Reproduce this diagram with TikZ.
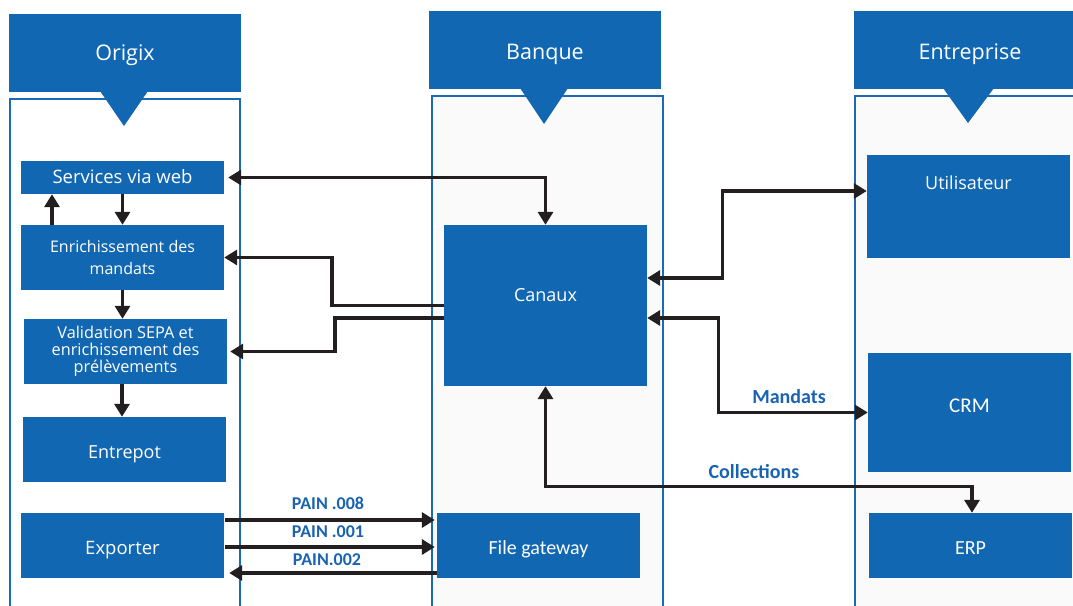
\documentclass[tikz,border=0pt]{standalone}
\usepackage{fontspec}
\setmainfont{Open Sans}
\newfontfamily\carl{Carlito}
\usetikzlibrary{arrows.meta}
\definecolor{mblue}{HTML}{1167B1}
\definecolor{lblue}{HTML}{1A63B0}
\definecolor{cbord}{HTML}{1A6AB8}
\definecolor{cfill}{HTML}{FAFAFA}
\definecolor{arrc}{HTML}{231F20}
\newcommand\rtxt[2]{\raisebox{#1}[0pt][0pt]{#2}}
\begin{document}
\begin{tikzpicture}[x=1pt,y=-1pt,
  hdr/.style={fill=mblue,text=white,inner sep=0pt,minimum width=232pt,minimum height=78pt,font=\fontsize{21.5}{24}\selectfont},
  blk/.style={fill=mblue,text=white,inner sep=0pt,align=center,minimum width=203pt},
  cont/.style={draw=cbord,line width=2pt},
  arr/.style={draw=arrc,line width=3.4pt,-{Triangle[length=13pt,width=15pt]}},
  dbl/.style={draw=arrc,line width=3.4pt,{Triangle[length=13pt,width=15pt]}-{Triangle[length=13pt,width=15pt]}},
  lbl/.style={text=lblue,font=\carl\bfseries\fontsize{18}{20}\selectfont,inner sep=0pt},
  lblb/.style={text=lblue,font=\carl\bfseries\fontsize{20}{22}\selectfont,inner sep=0pt}]
\useasboundingbox[fill=white] (0,0) rectangle (1073,605);
% containers
\path[cont,fill=white] (9.5,99) rectangle (240,625);
\path[cont,fill=cfill] (432,96) rectangle (663,625);
\path[cont,fill=cfill] (855,96) rectangle (1095,625);
% headers
\node[hdr] (hO) at (125,53) {\rtxt{-7pt}{Origix}};
\node[hdr] (hB) at (545,50) {\rtxt{-9.3pt}{Banque}};
\node[hdr] (hE) at (970,50) {\rtxt{-9.3pt}{Entreprise}};
\fill[mblue] (100,91) -- (148,91) -- (124,126) -- cycle;
\fill[mblue] (520,88) -- (568,88) -- (544,124) -- cycle;
\fill[mblue] (943,88) -- (994,88) -- (968,123) -- cycle;
% Origix boxes
\node[blk,minimum height=33pt,font=\fontsize{18.5}{20}\selectfont] (web) at (122.5,177.5) {\rtxt{-6.2pt}{Services via web}};
\node[blk,minimum height=65pt,font=\fontsize{16}{21.7}\selectfont] (enr) at (122.5,257.5) {Enrichissement des\\mandats};
\node[blk,minimum height=65pt,font=\fontsize{16.3}{17.2}\selectfont] (val) at (125.5,351.5) {Validation SEPA et\\enrichissement des\\prélèvements};
\node[blk,minimum height=65pt,font=\fontsize{18}{20}\selectfont] (ent) at (124.5,449.5) {\rtxt{-8.5pt}{Entrepot}};
\node[blk,minimum height=65pt,font=\fontsize{18.5}{20}\selectfont] (exp) at (122.5,545.5) {\rtxt{-8.8pt}{Exporter}};
% Banque boxes
\node[blk,minimum height=161pt,font=\fontsize{18}{20}\selectfont] (can) at (545.5,305.5) {\rtxt{3.8pt}{Canaux}};
\node[blk,minimum height=65pt,font=\carl\fontsize{20}{22}\selectfont] (fgw) at (538.5,545.5) {\rtxt{-8.5pt}{File gateway}};
% Entreprise boxes
\node[blk,minimum height=103pt] (usr) at (968.5,206.5) {};
\node[text=white,inner sep=0pt,anchor=base,font=\fontsize{18}{20}\selectfont] (usrT) at (968.5,189.3) {Utilisateur};
\node[blk,minimum height=119pt,font=\carl\fontsize{21}{24}\selectfont] (crm) at (969.5,412.5) {\rtxt{-0.2pt}{CRM}};
\node[blk,minimum height=65pt,font=\carl\fontsize{20}{22}\selectfont] (erp) at (970.5,545.5) {\rtxt{-8.5pt}{ERP}};
% connectors
\draw[dbl] (can.north) |- ([xshift=4pt]web.east);
\draw[arr] (can.west) -- ++(-112,0) |- (enr.east);
\draw[arr] ([yshift=-12.5pt]can.west) -- ++(-109,0) |- ([xshift=3pt]val.east);
\draw[dbl] ([yshift=27.5pt]can.east) -- ++(75,0) |- ([yshift=15.5pt]usr.west);
\draw[dbl] ([yshift=-12.5pt]can.east) -- ++(71,0) |- (crm.west);
\draw[dbl] (can.south) -- ++(0,100) -| ([xshift=1.5pt]erp.north);
\draw[arr] (web.south) -- (enr.north);
\draw[arr] ([xshift=-70.5pt]enr.north) -- ([xshift=-70.5pt]web.south);
\draw[arr] (enr.south) -- (enr.south |- val.north);
\draw[arr] ([xshift=-3.5pt]val.south) -- ([xshift=-2.5pt]ent.north);
\draw[arr] ([yshift=25.5pt,xshift=1pt]exp.east) -- ([yshift=25.5pt,xshift=-2pt]fgw.west);
\draw[arr] ([yshift=-1.5pt,xshift=1pt]exp.east) -- ([yshift=-1.5pt,xshift=-2pt]fgw.west);
\draw[arr] ([yshift=-27.5pt]fgw.west) -- ([yshift=-27.5pt,xshift=5pt]exp.east);
% labels
\node[lbl] (p8) at (328,503) {PAIN .008};
\node[lbl] (p1) at (328,532) {PAIN .001};
\node[lbl] (p2) at (327,560) {PAIN.002};
\node[lblb] (lm) at (789,397) {Mandats};
\node[lblb] (lc) at (754,472) {Collections};
\end{tikzpicture}
\end{document}
